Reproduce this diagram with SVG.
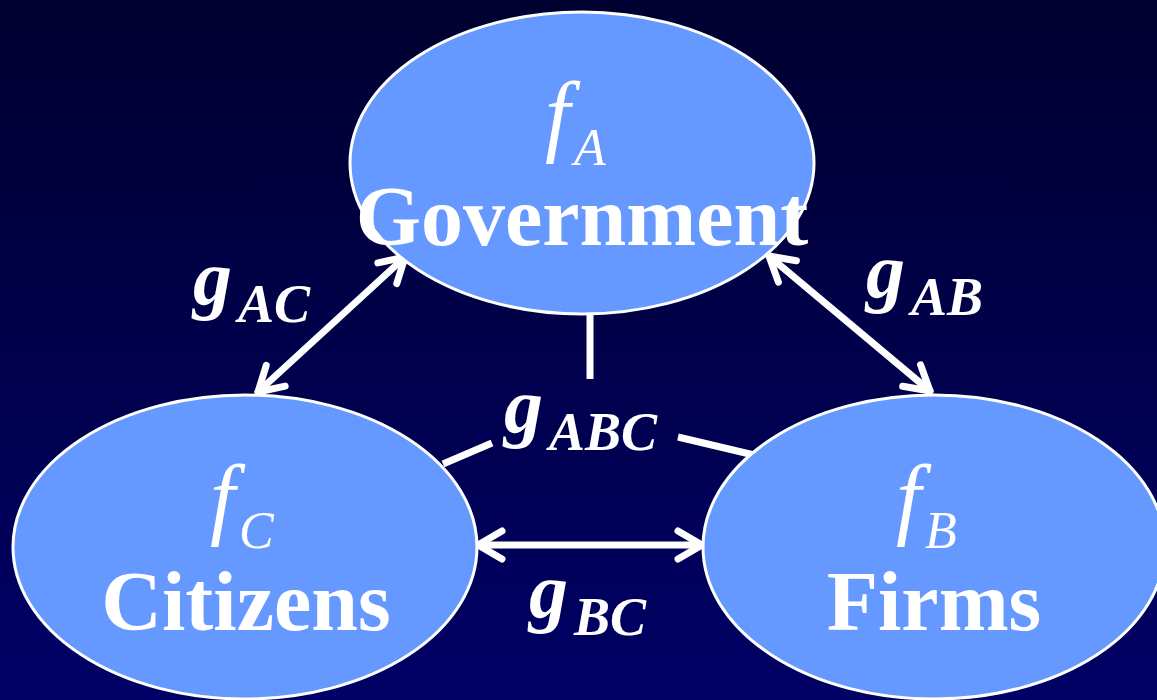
<svg xmlns="http://www.w3.org/2000/svg" width="1157" height="700" viewBox="0 0 1157 700">
  <defs>
    <linearGradient id="bg" x1="0" y1="0" x2="0" y2="1">
      <stop offset="0" stop-color="#000030"/>
      <stop offset="1" stop-color="#000066"/>
    </linearGradient>
    <marker id="arr" viewBox="-30 -30 60 60" markerWidth="60" markerHeight="60" refX="0" refY="0" markerUnits="userSpaceOnUse" orient="auto-start-reverse" overflow="visible">
      <path d="M -24 -14 L 0 0 L -24 14" fill="none" stroke="#ffffff" stroke-width="7" stroke-linecap="round" stroke-linejoin="round"/>
    </marker>
    <style>
      .node { fill: #6699FF; stroke: #ffffff; stroke-width: 3; }
      .name { font-family: "Liberation Serif", "Times New Roman", serif; font-weight: bold; font-size: 84px; fill: #ffffff; text-anchor: middle; }
      .f { font-family: "Liberation Serif", "Times New Roman", serif; font-style: italic; font-size: 90px; fill: #ffffff; }
      .fs { font-size: 52px; }
      .g { font-family: "Liberation Serif", "Times New Roman", serif; font-style: italic; font-weight: bold; font-size: 78px; fill: #ffffff; }
      .gs { font-size: 54px; }
      .link { stroke: #ffffff; stroke-width: 7; fill: none; stroke-linecap: round; }
      .tri { stroke: #ffffff; stroke-width: 7; fill: none; }
    </style>
  </defs>
  <rect x="0" y="0" width="1157" height="700" fill="url(#bg)"/>

  <g id="connectors">
    <line class="link" x1="405" y1="257" x2="258" y2="392" marker-start="url(#arr)" marker-end="url(#arr)"/>
    <line class="link" x1="769" y1="256" x2="930" y2="391" marker-start="url(#arr)" marker-end="url(#arr)"/>
    <line class="link" x1="478" y1="545" x2="702" y2="545" marker-start="url(#arr)" marker-end="url(#arr)"/>
    <line class="tri" x1="590" y1="313" x2="590" y2="379"/>
    <line class="tri" x1="443" y1="464" x2="492" y2="443"/>
    <line class="tri" x1="678" y1="437" x2="754" y2="455"/>
  </g>

  <g id="node-government">
    <ellipse class="node" cx="582" cy="163" rx="232" ry="151"/>
    <text class="f" x="545" y="145">f<tspan class="fs" dx="4" dy="20">A</tspan></text>
    <text class="name" x="582" y="245">Government</text>
  </g>

  <g id="node-citizens">
    <ellipse class="node" cx="245" cy="547" rx="232" ry="152"/>
    <text class="f" x="210" y="528">f<tspan class="fs" dx="4" dy="20">C</tspan></text>
    <text class="name" x="246" y="630">Citizens</text>
  </g>

  <g id="node-firms">
    <ellipse class="node" cx="934" cy="547" rx="231" ry="152"/>
    <text class="f" x="896" y="528">f<tspan class="fs" dx="4" dy="20">B</tspan></text>
    <text class="name" x="934" y="630">Firms</text>
  </g>

  <g id="labels">
    <text class="g" x="193" y="304">g<tspan class="gs" dx="6" dy="18">AC</tspan></text>
    <text class="g" x="866" y="297">g<tspan class="gs" dx="6" dy="18">AB</tspan></text>
    <text class="g" x="504" y="432">g<tspan class="gs" dx="6" dy="18">ABC</tspan></text>
    <text class="g" x="529" y="617">g<tspan class="gs" dx="6" dy="18">BC</tspan></text>
  </g>
</svg>
